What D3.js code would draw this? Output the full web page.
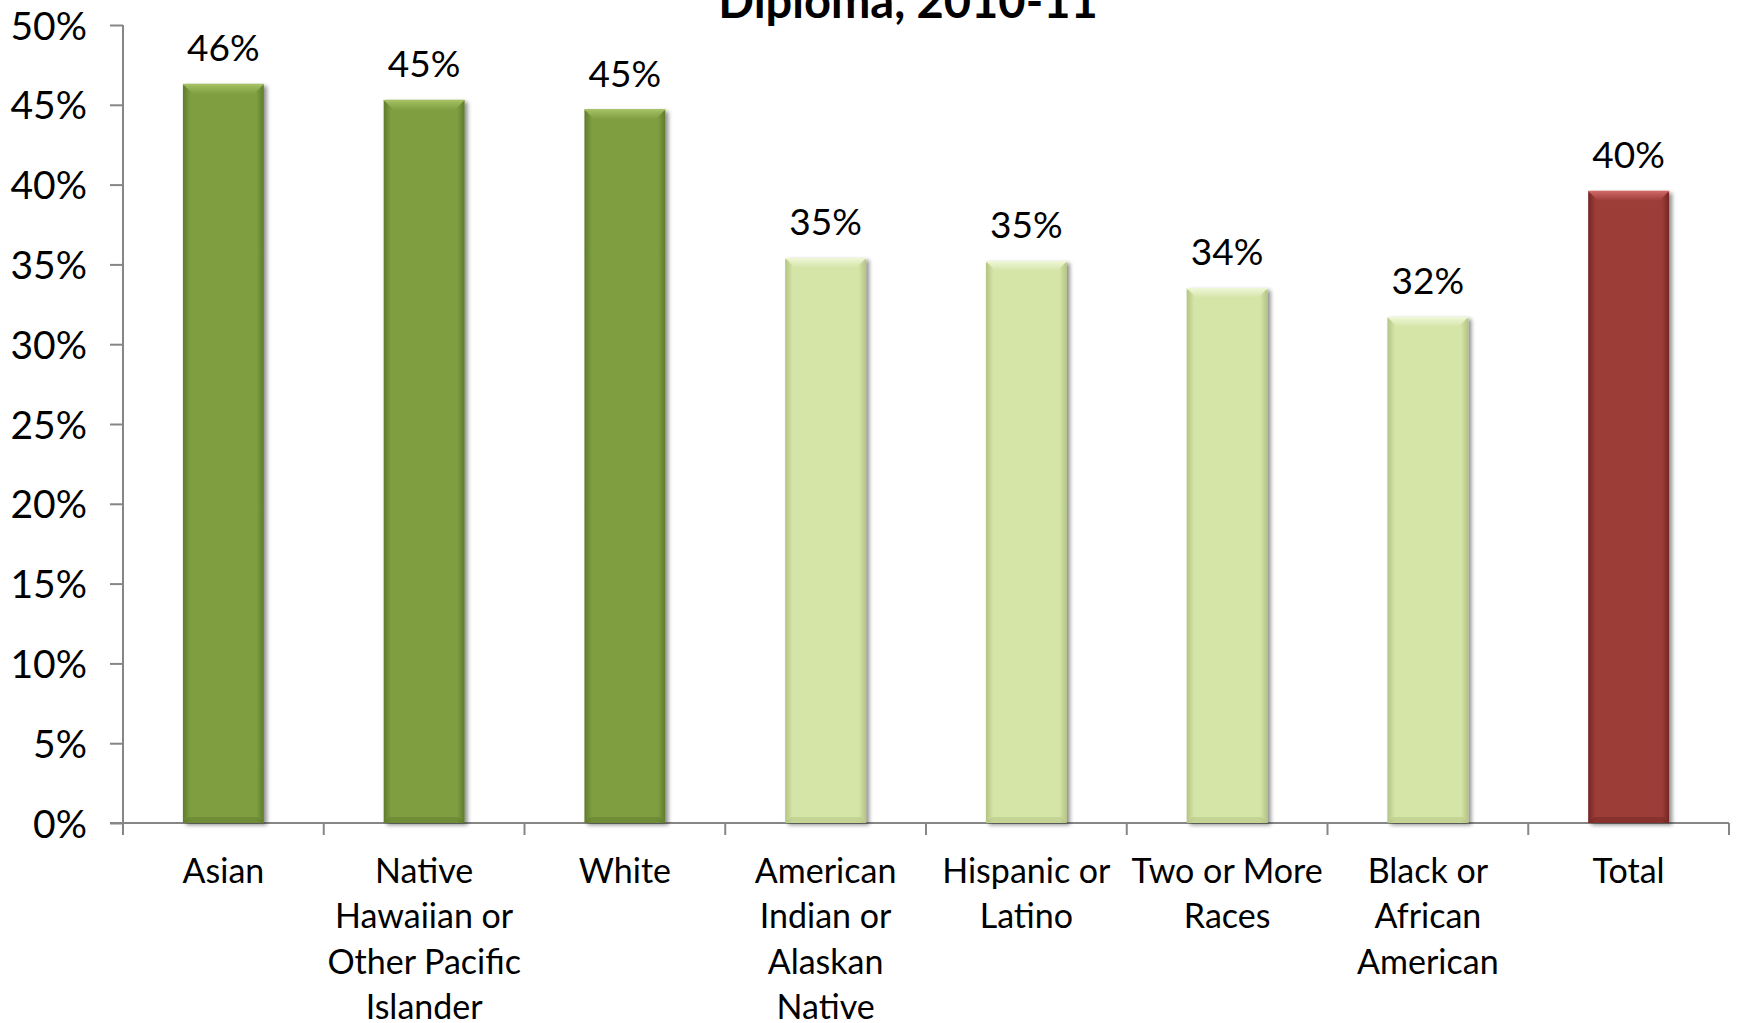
<!DOCTYPE html>
<html>
<head>
<meta charset="utf-8">
<script src="https://cdn.jsdelivr.net/npm/d3@7"></script>
<style>
  html, body { margin: 0; padding: 0; background: #ffffff; }
  svg { display: block; }
  text { font-family: Lato, "Open Sans", sans-serif; fill: #000; }
</style>
</head>
<body>
<svg id="chart" width="1738" height="1023"></svg>
<script>
// Share of graduates by race/ethnicity, 2010-11
const categories = [
  "Asian",
  "Native Hawaiian or Other Pacific Islander",
  "White",
  "American Indian or Alaskan Native",
  "Hispanic or Latino",
  "Two or More Races",
  "Black or African American",
  "Total"
];
const categoryLines = [
  ["Asian"],
  ["Native", "Hawaiian or", "Other Pacific", "Islander"],
  ["White"],
  ["American", "Indian or", "Alaskan", "Native"],
  ["Hispanic or", "Latino"],
  ["Two or More", "Races"],
  ["Black or", "African", "American"],
  ["Total"]
];
const values = [0.463, 0.453, 0.447, 0.354, 0.352, 0.335, 0.317, 0.396];
const groups = ["high", "high", "high", "low", "low", "low", "low", "total"];
const yTicks = [0, 0.05, 0.10, 0.15, 0.20, 0.25, 0.30, 0.35, 0.40, 0.45, 0.50];
const titleText = "Diploma, 2010-11";

const palette = {
  high:  { base: "#7f9e41", light: "#a3c162", dark: "#5f7b2c" },
  low:   { base: "#d5e4a7", light: "#eef6d6", dark: "#b3c482" },
  total: { base: "#9c3c39", light: "#cf6764", dark: "#742724" }
};

const svg = d3.select("#chart");
const margin = { left: 123, right: 9, top: 25, bottom: 200 };
const W = 1738, H = 1023;

const x = d3.scaleBand()
  .domain(categories)
  .range([margin.left, W - margin.right])
  .paddingInner(0.597)
  .paddingOuter(0.597 / 2);

const y = d3.scaleLinear()
  .domain([0, 0.5])
  .range([H - margin.bottom, margin.top]);

const defs = svg.append("defs");

// Soft shadow under each bar
const shadow = defs.append("filter").attr("id", "barShadow")
  .attr("x", "-20%").attr("y", "-5%").attr("width", "150%").attr("height", "120%");
shadow.append("feGaussianBlur").attr("in", "SourceAlpha").attr("stdDeviation", 2.2).attr("result", "b");
shadow.append("feOffset").attr("in", "b").attr("dx", 2.5).attr("dy", 2).attr("result", "o");
shadow.append("feComponentTransfer").attr("in", "o").attr("result", "s")
  .append("feFuncA").attr("type", "linear").attr("slope", 0.45);
const merge = shadow.append("feMerge");
merge.append("feMergeNode").attr("in", "s");
merge.append("feMergeNode").attr("in", "SourceGraphic");

// Horizontal shading: darker edges, flat centre
Object.entries(palette).forEach(([key, c]) => {
  const g = defs.append("linearGradient").attr("id", "grad-" + key)
    .attr("x1", "0%").attr("x2", "100%").attr("y1", "0%").attr("y2", "0%");
  g.append("stop").attr("offset", "0%").attr("stop-color", c.dark);
  g.append("stop").attr("offset", "9%").attr("stop-color", c.base);
  g.append("stop").attr("offset", "91%").attr("stop-color", c.base);
  g.append("stop").attr("offset", "100%").attr("stop-color", c.dark);
  const t = defs.append("linearGradient").attr("id", "top-" + key)
    .attr("x1", "0%").attr("x2", "0%").attr("y1", "0%").attr("y2", "100%");
  t.append("stop").attr("offset", "0%").attr("stop-color", c.light);
  t.append("stop").attr("offset", "100%").attr("stop-color", c.base);
});

// Title (first line sits above the visible area)
svg.append("text")
  .attr("x", 908).attr("y", 18)
  .attr("text-anchor", "middle")
  .style("font-weight", "bold")
  .style("font-size", "47px")
  .text(titleText);

// Y axis
const axisColor = "#868686";
const yAxis = svg.append("g").attr("transform", `translate(${margin.left},0)`)
  .call(d3.axisLeft(y).tickValues(yTicks).tickFormat(d3.format(".0%")).tickSize(13).tickPadding(23));
yAxis.select(".domain").attr("stroke", axisColor).attr("stroke-width", 2).attr("d", `M0,${y(0)}V${y(0.5)}`);
yAxis.selectAll(".tick line").attr("stroke", axisColor).attr("stroke-width", 2);
yAxis.selectAll(".tick text")
  .style("font-size", "39px").style("font-family", "Lato, sans-serif").attr("fill", "#000")
  .attr("dy", "0.36em");

// X axis with ticks at category boundaries
const xAxisG = svg.append("g");
xAxisG.append("line")
  .attr("x1", margin.left - 13).attr("x2", W - margin.right)
  .attr("y1", y(0)).attr("y2", y(0))
  .attr("stroke", axisColor).attr("stroke-width", 2);
const bounds = categories.map(c => x(c) - x.step() * x.paddingInner() / 2)
  .concat([W - margin.right]);
xAxisG.selectAll(".btick").data(bounds).join("line")
  .attr("x1", d => d).attr("x2", d => d)
  .attr("y1", y(0)).attr("y2", y(0) + 12)
  .attr("stroke", axisColor).attr("stroke-width", 2);

// Category labels, wrapped
const labelG = svg.append("g");
categories.forEach((c, i) => {
  const t = labelG.append("text")
    .attr("text-anchor", "middle")
    .attr("x", x(c) + x.bandwidth() / 2)
    .attr("y", y(0) + 60)
    .style("font-size", "34px");
  categoryLines[i].forEach((ln, j) => {
    t.append("tspan").attr("x", x(c) + x.bandwidth() / 2).attr("dy", j === 0 ? 0 : 45.3).text(ln);
  });
});

// Bars
const bevel = 10;
const bars = svg.append("g").selectAll("g.bar")
  .data(categories.map((c, i) => ({ c, v: values[i], g: groups[i] })))
  .join("g").attr("class", "bar");

bars.append("rect")
  .attr("x", d => x(d.c))
  .attr("y", d => y(d.v))
  .attr("width", x.bandwidth())
  .attr("height", d => y(0) - y(d.v))
  .attr("fill", d => `url(#grad-${d.g})`)
  .attr("filter", "url(#barShadow)");

// Top bevel highlight
bars.append("path")
  .attr("d", d => {
    const x0 = x(d.c), x1 = x0 + x.bandwidth(), yt = y(d.v);
    return `M${x0},${yt}L${x1},${yt}L${x1 - bevel},${yt + bevel}L${x0 + bevel},${yt + bevel}Z`;
  })
  .attr("fill", d => `url(#top-${d.g})`);
bars.append("line")
  .attr("x1", d => x(d.c)).attr("x2", d => x(d.c) + x.bandwidth())
  .attr("y1", d => y(d.v) + 0.5).attr("y2", d => y(d.v) + 0.5)
  .attr("stroke", d => palette[d.g].light).attr("stroke-width", 1.5);

// Bottom lip
bars.append("path")
  .attr("d", d => {
    const x0 = x(d.c), x1 = x0 + x.bandwidth(), yb = y(0);
    return `M${x0},${yb}L${x1},${yb}L${x1 - 6},${yb - 6}L${x0 + 6},${yb - 6}Z`;
  })
  .attr("fill", d => palette[d.g].dark).attr("opacity", 0.5);

// Value labels
bars.append("text")
  .attr("x", d => x(d.c) + x.bandwidth() / 2)
  .attr("y", d => y(d.v) - 23)
  .attr("text-anchor", "middle")
  .style("font-size", "37px")
  .text(d => d3.format(".0%")(d.v));
</script>
</body>
</html>
